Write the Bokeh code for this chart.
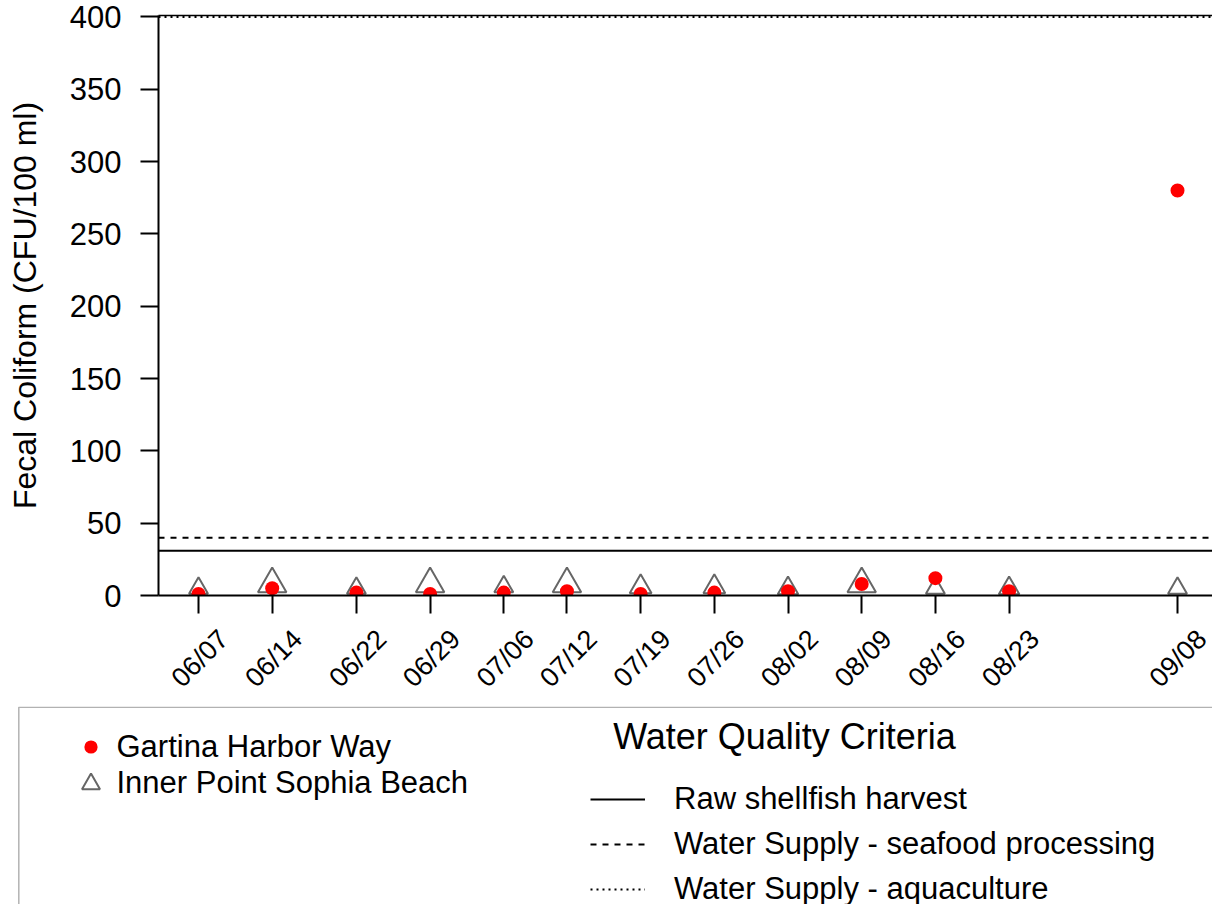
from datetime import date
from math import pi

from bokeh.plotting import figure
from bokeh.models import (Range1d, LinearAxis, FixedTicker, Legend, LegendItem,
                          Label, BoxAnnotation, ColumnDataSource, CustomLabelingPolicy)
from bokeh.embed import file_html
from bokeh.resources import INLINE

# ---------------- data ----------------
YEAR = 2021
sample_dates = ["06/07", "06/14", "06/22", "06/29", "07/06", "07/12", "07/19",
                "07/26", "08/02", "08/09", "08/16", "08/23", "09/08"]
series_names = ["Gartina Harbor Way", "Inner Point Sophia Beach"]
gartina_values = [1, 5, 2, 1, 2, 3, 1, 2, 3, 8, 12, 3, 280]
sophia_values = [5, 8, 5, 8, 6, 8, 6, 6, 5, 8, 5, 5, 5]
sophia_marker_scale = [1.0, 1.5, 1.0, 1.5, 1.0, 1.5, 1.15, 1.15, 1.08, 1.5, 1.0, 1.08, 1.0]
criteria_title = "Water Quality Criteria"
criteria_names = ["Raw shellfish harvest", "Water Supply - seafood processing",
                  "Water Supply - aquaculture"]
criteria_values = [31, 40, 400]
criteria_dashes = ["solid", "6 6", "2 4"]
y_ticks = [0, 50, 100, 150, 200, 250, 300, 350, 400]
y_label = "Fecal Coliform (CFU/100 ml)"


def to_date(s):
    m, d = s.split("/")
    return date(YEAR, int(m), int(d))


first = to_date(sample_dates[0])
days = [(to_date(s) - first).days for s in sample_dates]

# ---------------- layout constants ----------------
FONT = "Liberation Sans"
W = 1212
H1 = 706          # chart part
H2 = 904 - H1     # legend part
LEFT, TOP = 158, 15
BOTTOM = H1 - 595
FRAME_W = W - LEFT
PX_PER_DAY = 10.527
x_start = -40 / PX_PER_DAY
x_end = x_start + FRAME_W / PX_PER_DAY
y_end = 401
label_shift = 2.41  # days: rotated labels end to the right of their tick

p = figure(width=W, height=H1, output_backend="svg", toolbar_location=None,
           x_range=Range1d(x_start, x_end), y_range=Range1d(0, y_end),
           min_border_left=LEFT, min_border_right=0, min_border_top=TOP,
           min_border_bottom=BOTTOM)
p.grid.visible = False
p.outline_line_color = None
p.background_fill_color = "white"
p.border_fill_color = "white"

no_labels = CustomLabelingPolicy(code="return []")

# y axis
ya = p.yaxis[0]
ya.ticker = FixedTicker(ticks=y_ticks)
ya.minor_tick_line_color = None
ya.major_tick_in = 0
ya.major_tick_out = 18
ya.major_tick_line_width = 2
ya.major_tick_line_color = "black"
ya.axis_line_width = 2
ya.axis_line_color = "black"
ya.major_label_standoff = 19
ya.major_label_text_font = FONT
ya.major_label_text_font_size = "31px"
ya.major_label_text_color = "black"
ya.axis_label = y_label
ya.axis_label_text_font = FONT
ya.axis_label_text_font_size = "32px"
ya.axis_label_text_font_style = "normal"
ya.axis_label_text_color = "black"
ya.axis_label_standoff = 24

# x axis: tick marks only
xa = p.xaxis[0]
xa.ticker = FixedTicker(ticks=days)
xa.minor_tick_line_color = None
xa.major_tick_in = 0
xa.major_tick_out = 18
xa.major_tick_line_width = 2
xa.major_tick_line_color = "black"
xa.axis_line_width = 2
xa.axis_line_color = "black"
xa.major_label_text_font_size = "1px"
xa.major_label_standoff = 0
xa.major_label_policy = no_labels

# x axis: rotated date labels
p.extra_x_ranges = {"labels": Range1d(x_start - label_shift, x_end - label_shift)}
xa2 = LinearAxis(x_range_name="labels", ticker=FixedTicker(ticks=days),
                 major_label_overrides={d: s for d, s in zip(days, sample_dates)},
                 axis_line_color=None, major_tick_line_color=None, minor_tick_line_color=None,
                 major_tick_in=0, major_tick_out=0,
                 major_label_orientation=pi / 4, major_label_standoff=17,
                 major_label_text_font=FONT, major_label_text_font_size="27px",
                 major_label_text_color="black")
p.add_layout(xa2, "below")

# plot-box top edge
top_axis = LinearAxis(ticker=FixedTicker(ticks=[]), axis_line_color="black",
                      axis_line_width=1.5, major_tick_line_color=None,
                      minor_tick_line_color=None, major_tick_in=0, major_tick_out=0,
                      major_label_text_font_size="1px", major_label_standoff=0,
                      major_label_policy=CustomLabelingPolicy(code="return []"))
p.add_layout(top_axis, "above")

# criteria lines
for v, dsh in zip(criteria_values, criteria_dashes):
    p.line([x_start, x_end], [v, v], line_color="black", line_width=2, line_dash=dsh)

# data points
tri_src = ColumnDataSource(dict(x=days, y=sophia_values,
                                s=[19 * k for k in sophia_marker_scale]))
p.scatter("x", "y", source=tri_src, marker="triangle", size="s",
          fill_color=None, line_color="#666666", line_width=2)
p.scatter(days, gartina_values, marker="circle", size=14,
          fill_color="#FF0000", line_color=None)

# ---------------- legend panel (pixel coordinates, y up) ----------------
q = figure(width=W, height=H2, output_backend="svg", toolbar_location=None,
           x_range=Range1d(0, W), y_range=Range1d(0, H2),
           x_axis_location=None, y_axis_location=None, min_border=0,
           min_border_left=0, min_border_right=0, min_border_top=0, min_border_bottom=0)
q.grid.visible = False
q.outline_line_color = None
q.background_fill_color = "white"
q.border_fill_color = "white"


def ly(py):  # page y -> legend-panel y (from bottom)
    return 904 - py


q.add_layout(BoxAnnotation(left=18.3, right=W + 50, bottom=-50, top=ly(H1 + 0.8),
                           fill_color=None, fill_alpha=0, line_color="black",
                           line_width=1.5))

nan = float("nan")
leg_dot = q.scatter([nan], [nan], marker="circle", fill_color="#FF0000", line_color=None)
leg_tri = q.scatter([nan], [nan], marker="triangle", fill_color=None,
                    line_color="#666666", line_width=2)
leg_lines = [q.line([nan, nan], [nan, nan], line_color="black", line_width=2, line_dash=d)
             for d in criteria_dashes]

common = dict(padding=0, margin=0, spacing=0, border_line_color=None,
              background_fill_alpha=0, label_text_font=FONT,
              label_text_font_size="31px", label_text_color="black")

q.add_layout(Legend(items=[LegendItem(label=series_names[0], renderers=[leg_dot])],
                    location=(90 - 16.5, ly(764.5)),
                    glyph_width=33, glyph_height=33, label_standoff=10, **common))
q.add_layout(Legend(items=[LegendItem(label=series_names[1], renderers=[leg_tri])],
                    location=(90 - 22.5, ly(805.5)),
                    glyph_width=45, glyph_height=45, label_standoff=4, **common))
common_l = dict(common)
common_l["spacing"] = 1
q.add_layout(Legend(items=[LegendItem(label=n, renderers=[r])
                           for n, r in zip(criteria_names, leg_lines)],
                    location=(590, ly(911)),
                    glyph_width=55, glyph_height=44, label_standoff=29, **common_l))
q.add_layout(Label(x=784, y=ly(736), text=criteria_title, text_align="center",
                   text_baseline="middle", text_font=FONT, text_font_size="36px",
                   text_color="black"))

open("out.html", "w").write(file_html([p, q], INLINE))
